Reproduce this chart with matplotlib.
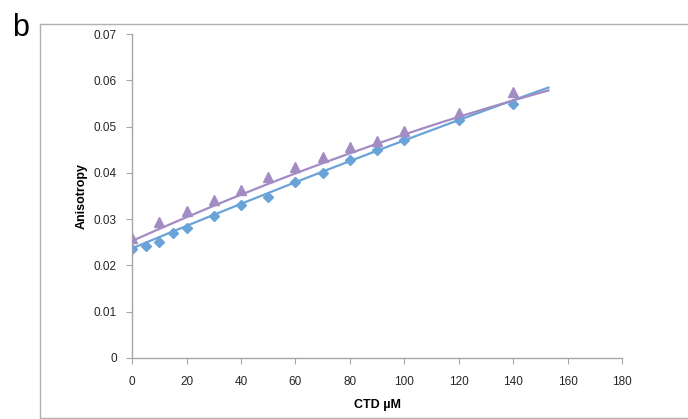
import numpy as np
import matplotlib.pyplot as plt
from matplotlib.lines import Line2D

plt.rcParams['font.family'] = ['Liberation Sans', 'DejaVu Sans']

# data
x_blue = [0, 5, 10, 15, 20, 30, 40, 50, 60, 70, 80, 90, 100, 120, 140]
y_blue = [0.0235, 0.0242, 0.0250, 0.0270, 0.0280, 0.0307, 0.0330, 0.0348,
          0.0380, 0.0400, 0.0427, 0.0450, 0.0472, 0.0515, 0.0550]
x_purple = [0, 10, 20, 30, 40, 50, 60, 70, 80, 90, 100, 120, 140]
y_purple = [0.0260, 0.0293, 0.0317, 0.0342, 0.0364, 0.0392, 0.0413,
            0.0434, 0.0456, 0.0470, 0.0490, 0.0530, 0.0575]

# trend curves as drawn (quadratic coefficients: c2, c1, c0)
trend_blue = [-1.17e-7, 2.45e-4, 0.0237]
trend_purple = [-3.3e-7, 2.63e-4, 0.0253]
trend_xmax = 153

c_blue = '#6aa3d8'
c_purple = '#a38bc4'

fig = plt.figure(figsize=(6.88, 4.19), dpi=100)
ax = fig.add_axes([0.192, 0.1456, 0.712, 0.773])

ax.plot(x_blue, y_blue, 'D', color=c_blue, ms=5, mec=c_blue, zorder=2)
ax.plot(x_purple, y_purple, '^', color=c_purple, ms=7, mec=c_purple, zorder=2)

xx = np.linspace(0, trend_xmax, 200)
ax.plot(xx, np.polyval(trend_blue, xx), color=c_blue, lw=1.6, zorder=3)
ax.plot(xx, np.polyval(trend_purple, xx), color=c_purple, lw=1.6, zorder=3)

ax.set_xlim(0, 180)
ax.set_ylim(0, 0.07)
ax.set_xticks(range(0, 181, 20))
ax.set_yticks(np.arange(0, 0.0701, 0.01))
ax.set_yticklabels(['0'] + ['%.2f' % v for v in np.arange(0.01, 0.0701, 0.01)])

for s in ['top', 'right']:
    ax.spines[s].set_visible(False)
for s in ['left', 'bottom']:
    ax.spines[s].set_color('#a6a6a6')
    ax.spines[s].set_linewidth(1.0)
ax.tick_params(direction='out', length=4, color='#a6a6a6', labelsize=8.5,
               labelcolor='#262626')
ax.tick_params(axis='x', pad=9)
ax.tick_params(axis='y', pad=7)

ax.set_xlabel('CTD µM', fontsize=9, fontweight='bold', labelpad=8)
ax.set_ylabel('Anisotropy', fontsize=9, fontweight='bold', labelpad=4)

# outer chart frame
fc = '#b0b0b0'
fig.add_artist(Line2D([40/688, 40/688], [1 - 24/419, 1 - 418/419],
                      transform=fig.transFigure, color=fc, lw=1))
fig.add_artist(Line2D([40/688, 1], [1 - 24/419, 1 - 24/419],
                      transform=fig.transFigure, color=fc, lw=1))
fig.add_artist(Line2D([40/688, 1], [1 - 418/419, 1 - 418/419],
                      transform=fig.transFigure, color=fc, lw=1))

fig.text(12/688, 1 - 36/419, 'b', fontsize=22, color='black')

fig.savefig('out.png', dpi=100)
